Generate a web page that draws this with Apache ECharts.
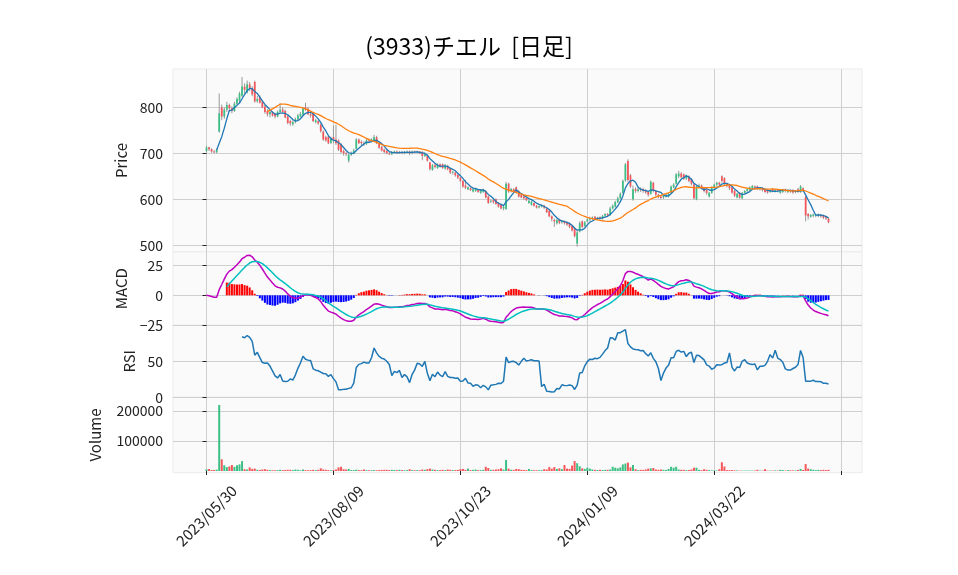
<!DOCTYPE html>
<html><head><meta charset="utf-8">
<script src="https://cdn.jsdelivr.net/npm/echarts@6/dist/echarts.min.js"></script>
<style>html,body{margin:0;padding:0;background:#fff}#c{width:958px;height:575px}</style>
</head><body><div id="c"></div>
<script>
const chartTitle = '(3933)チエル  [日足]';
const tickIndex = [0, 50, 100, 150, 200, 250];
const tickLabels = ['2023/05/30', '2023/08/09', '2023/10/23', '2024/01/09', '2024/03/22'];
const priceTicks = [500, 600, 700, 800];
const macdTicks = [-25, 0, 25];
const rsiTicks = [0, 50];
const volTicks = [100000, 200000];

const openP = [
705,713,709,704,702,747,800,780,795,805,
798,792,808,815,825,845,832,850,842,855,
813,822,812,802,792,785,790,786,780,790,
795,792,780,770,763,768,774,780,784,800,
797,785,787,768,770,762,747,735,736,723,
735,730,728,720,705,700,684,697,700,710,
730,725,722,720,728,726,726,735,722,714,
708,705,700,698,702,704,701,703,700,703,
704,700,704,702,704,703,694,695,680,664,
674,668,676,676,667,673,667,658,658,653,
647,640,630,622,624,617,618,620,614,616,
618,606,595,598,600,592,588,580,579,634,
618,622,626,618,610,606,603,592,588,592,
586,582,584,586,580,575,563,555,548,556,
550,552,550,548,542,538,504,530,552,542,
552,556,558,562,557,561,558,564,568,566,
580,584,594,602,614,641,683,652,600,622,
618,622,622,620,616,612,636,618,610,606,
604,606,606,614,626,634,650,656,654,645,
650,644,632,600,626,630,625,620,606,614,
626,632,636,650,646,634,630,626,618,604,
614,602,614,618,620,624,628,628,622,624,
622,620,616,622,617,620,614,616,621,616,
620,620,616,622,616,624,605,568,562,564,
565,564,566,565,561,558];
const highP = [
716,714,711,707,710,830,806,800,812,808,
802,812,822,834,866,852,858,855,846,858,
825,826,815,805,796,794,792,788,793,809,
800,795,783,773,772,778,786,790,800,810,
800,790,790,775,772,765,750,738,738,736,
760,762,730,722,708,703,699,704,710,733,
732,728,726,731,732,733,740,738,724,716,
710,707,703,705,706,706,705,705,705,706,
706,706,706,706,705,705,702,697,682,677,
677,678,678,678,677,675,669,662,660,655,
649,642,642,628,626,624,625,622,622,623,
620,608,600,600,602,594,590,586,638,636,
625,624,628,620,612,608,605,599,597,593,
588,587,589,588,582,577,565,558,558,558,
555,554,552,550,544,540,532,552,554,553,
560,562,563,564,562,563,566,570,570,584,
589,597,606,615,643,679,687,655,630,626,
626,626,625,622,618,641,638,620,612,608,
610,612,614,630,635,657,662,659,656,654,
652,646,634,630,634,632,627,622,616,628,
634,638,638,652,648,636,632,628,620,614,
616,616,620,624,628,631,630,630,626,626,
624,622,621,624,622,622,622,623,623,622,
622,622,620,625,631,626,607,570,568,569,
568,569,568,567,563,560];
const lowP = [
702,705,701,700,700,745,772,775,790,790,
787,790,805,810,822,830,830,835,824,810,
810,808,798,786,780,778,780,776,778,788,
786,776,763,760,760,765,772,778,782,792,
783,778,768,765,762,745,727,725,720,720,
722,718,705,700,695,694,680,694,698,708,
720,718,716,718,722,724,724,720,710,704,
700,698,696,696,700,699,699,698,698,700,
696,698,700,700,698,685,692,682,662,662,
667,666,669,666,664,663,655,654,649,644,
638,625,622,620,618,615,616,614,612,614,
602,590,592,590,588,582,578,576,577,614,
615,614,612,604,602,599,596,590,586,584,
580,580,582,579,570,561,552,540,545,546,
547,545,542,537,530,517,497,528,537,539,
550,553,555,554,555,555,556,562,562,564,
578,582,592,600,612,638,638,625,597,614,
615,616,614,612,606,610,615,606,602,600,
601,604,604,612,624,632,646,645,642,642,
637,630,600,598,624,622,615,610,604,612,
622,628,628,636,630,626,620,612,605,602,
601,600,612,615,618,622,623,620,619,617,
614,612,614,615,615,615,612,614,615,613,
614,612,613,614,614,616,552,556,560,561,
561,561,560,557,555,548];
const closeP = [
713,709,704,702,708,787,780,795,805,798,
792,808,818,830,845,838,850,842,828,813,
818,810,800,790,785,790,782,780,790,795,
790,778,766,765,768,774,782,786,798,795,
785,782,770,772,765,748,730,728,722,732,
730,722,708,703,700,698,697,700,706,730,
722,722,720,728,726,730,735,722,712,706,
703,700,698,702,704,701,703,700,703,704,
700,704,702,704,700,694,698,684,666,674,
670,676,672,668,675,665,658,660,652,647,
640,628,625,626,620,622,623,616,620,621,
604,592,597,594,590,584,580,584,634,617,
622,616,615,606,604,602,598,597,595,586,
582,585,587,582,572,563,557,552,555,549,
553,548,545,540,532,520,528,548,540,550,
556,558,560,557,560,558,564,568,565,580,
586,594,602,612,640,676,642,628,622,618,
622,620,618,615,610,638,618,610,606,603,
607,610,612,628,632,654,656,648,645,652,
640,634,602,628,630,625,618,614,614,626,
632,636,632,640,634,630,624,615,608,612,
604,614,618,622,626,629,626,622,624,620,
616,615,619,617,620,618,620,621,618,620,
617,615,618,617,628,620,565,563,566,567,
566,567,563,560,558,550];
const volume = [
5600,6700,3000,3500,4500,220000,39000,19000,13000,15000,
20000,14000,19000,22000,33000,6000,5000,12000,7000,8000,
4000,3500,5000,6000,4000,3000,2500,2500,3000,4000,
3000,3500,4000,4000,3000,5000,4000,2500,5000,3000,
2500,3000,4000,3000,4000,9000,5000,4000,3000,2500,
3000,5000,12000,14000,6000,5000,7000,3000,3000,4500,
3000,2500,5000,3000,2500,2500,3000,2500,3000,3500,
4000,4000,3000,4000,3500,3000,4000,3000,2500,3000,
6000,3000,2500,3000,2500,5000,4000,6000,8000,5000,
4000,3000,3000,4000,3000,5000,4000,3000,3000,3500,
6000,7000,4000,8000,3000,4000,5000,3000,3000,4000,
14000,10000,4000,4000,5000,6000,9000,5000,37000,8000,
4000,3500,7000,6000,4000,3500,3000,7000,3000,2500,
2500,2500,3000,6000,5000,13000,8000,13000,7000,9000,
6000,20000,8000,7000,18000,33000,26000,16000,9000,7000,
11000,8000,5000,4000,3500,4000,3500,4000,4000,5000,
14000,11000,9000,12000,22000,25000,28000,12000,20000,6000,
3000,4000,3500,5000,8000,9000,10000,5000,4000,5000,
4000,3500,7000,14000,11000,14000,5000,4000,4000,3000,
3500,5000,11000,11000,4000,3000,6000,4000,3000,2000,
2000,1500,6000,29000,15000,3000,3000,3000,2000,2000,
1500,1500,1500,1500,1500,1500,1500,4000,1500,1500,
6000,1500,1500,1500,2000,1500,4000,3000,1500,3000,
2500,2000,2000,3500,7000,3500,23000,8000,6000,4000,
3000,4000,3000,4000,3000,4000];

// ---- indicators derived from the closes ----
function sma(arr, p) { return arr.map((_, i) => { if (i < p - 1) return null; let s = 0; for (let k = i - p + 1; k <= i; k++) s += arr[k]; return s / p; }); }
function ema(arr, p) { const a = 2 / (p + 1); const out = []; arr.forEach((v, i) => { out.push(i === 0 ? v : a * v + (1 - a) * out[i - 1]); }); return out; }
const ma5 = sma(closeP, 5), ma25 = sma(closeP, 25);
const e12 = ema(closeP, 12), e26 = ema(closeP, 26);
const macd = e12.map((v, i) => v - e26[i]);
const sigFull = ema(macd, 9);
const signal = sigFull.map((v, i) => i < 8 ? null : v);
const hist = macd.map((v, i) => i < 8 ? null : v - sigFull[i]);
const rsi = closeP.map((_, i) => {
  if (i < 14) return null;
  let g = 0, l = 0;
  for (let k = i - 13; k <= i; k++) { const d = closeP[k] - closeP[k - 1]; if (d > 0) g += d; else l -= d; }
  return g + l === 0 ? 50 : 100 * g / (g + l);
});

const UP = '#3cbf84', DOWN = '#f5565b';
const FONT = 'Noto Sans CJK JP';
const pts = arr => arr.map((v, i) => [i, v]);

const grids = [
  { left: 173, width: 689, top: 69, height: 183 },
  { left: 173, width: 689, top: 252, height: 73.3 },
  { left: 173, width: 689, top: 325.3, height: 72 },
  { left: 173, width: 689, top: 397.3, height: 75.4 }
].map(g => Object.assign(g, { show: true, backgroundColor: '#fafafa', borderColor: '#ebebeb', borderWidth: 1 }));

const xAxes = [0, 1, 2, 3].map(k => ({
  type: 'value', gridIndex: k, min: -13.2, max: 258.2,
  axisLine: { show: false },
  axisTick: { show: k === 3, customValues: tickIndex, length: 4, lineStyle: { color: '#222' } },
  axisLabel: { show: k === 3, customValues: [0, 50, 100, 150, 200], rotate: 45, margin: 43,
    align: 'center', verticalAlign: 'middle',
    formatter: v => tickLabels[Math.round(v / 50)] || '', fontFamily: FONT, fontSize: 15, color: '#222' },
  splitLine: { show: true, lineStyle: { color: '#cfcfcf', width: 1 } }
}));

function yax(k, min, max, ticks, name, gap, fmt) {
  return {
    type: 'value', gridIndex: k, min, max,
    name, nameLocation: 'middle', nameRotate: 90, nameGap: gap,
    nameTextStyle: { fontFamily: FONT, fontSize: 15, color: '#222' },
    axisLine: { show: false },
    axisTick: { show: true, customValues: ticks, length: 4, lineStyle: { color: '#222' } },
    axisLabel: { customValues: ticks, margin: 10, fontFamily: FONT, fontSize: 14, color: '#222', formatter: fmt || (v => String(v)) },
    splitLine: { show: true, lineStyle: { color: '#cfcfcf', width: 1 } }
  };
}
const yAxes = [
  yax(0, 485.4, 883.3, priceTicks, 'Price', 44),
  yax(1, -25, 36.1, macdTicks, 'MACD', 44, v => v < 0 ? '\u2212' + (-v) : String(v)),
  yax(2, 0, 100, rsiTicks, 'RSI', 35),
  yax(3, -5667, 245667, volTicks, 'Volume', 70)
];

const candle = {
  type: 'custom', xAxisIndex: 0, yAxisIndex: 0, clip: true,
  data: openP.map((o, i) => [i, o, closeP[i], lowP[i], highP[i]]),
  encode: { x: 0, y: [1, 2, 3, 4] },
  renderItem: (params, api) => {
    const x = api.value(0), o = api.value(1), c = api.value(2), l = api.value(3), h = api.value(4);
    const pO = api.coord([x, o]), pC = api.coord([x, c]), pL = api.coord([x, l]), pH = api.coord([x, h]);
    const w = api.size([1, 0])[0] * 0.7;
    const top = Math.min(pO[1], pC[1]);
    const ht = Math.max(Math.abs(pO[1] - pC[1]), 0.8);
    return { type: 'group', children: [
      { type: 'line', shape: { x1: pH[0], y1: pH[1], x2: pL[0], y2: pL[1] }, style: { stroke: '#999', lineWidth: 1 } },
      { type: 'rect', shape: { x: pO[0] - w / 2, y: top, width: w, height: ht }, style: { fill: c >= o ? UP : DOWN } }
    ] };
  }
};

const series = [
  candle,
  { type: 'line', xAxisIndex: 0, yAxisIndex: 0, data: pts(ma5), showSymbol: false, lineStyle: { color: '#1f77b4', width: 1.3 }, z: 3 },
  { type: 'line', xAxisIndex: 0, yAxisIndex: 0, data: pts(ma25), showSymbol: false, lineStyle: { color: '#ff7f0e', width: 1.3 }, z: 3 },
  { type: 'bar', xAxisIndex: 1, yAxisIndex: 1, data: pts(hist), barWidth: 2,
    itemStyle: { color: p => (p.value[1] >= 0 ? '#ff0000' : '#0000ff') } },
  { type: 'line', xAxisIndex: 1, yAxisIndex: 1, data: pts(macd), showSymbol: false, lineStyle: { color: '#bf00bf', width: 1.5 }, z: 3 },
  { type: 'line', xAxisIndex: 1, yAxisIndex: 1, data: pts(signal), showSymbol: false, lineStyle: { color: '#00bfbf', width: 1.5 }, z: 3 },
  { type: 'line', xAxisIndex: 2, yAxisIndex: 2, data: pts(rsi), showSymbol: false, lineStyle: { color: '#1f77b4', width: 1.5 } },
  { type: 'bar', xAxisIndex: 3, yAxisIndex: 3, data: pts(volume), barWidth: 2,
    itemStyle: { color: p => (closeP[p.dataIndex] >= openP[p.dataIndex] ? UP : DOWN) } }
];

const chart = echarts.init(document.getElementById('c'), null, { renderer: 'canvas' });
chart.setOption({
  animation: false,
  backgroundColor: '#ffffff',
  textStyle: { fontFamily: FONT },
  graphic: [{ type: 'text', x: 469, y: 46, style: { text: chartTitle, fontSize: 23, fontFamily: FONT, fill: '#000', align: 'center', verticalAlign: 'middle' } }],
  grid: grids, xAxis: xAxes, yAxis: yAxes, series
});
</script></body></html>
